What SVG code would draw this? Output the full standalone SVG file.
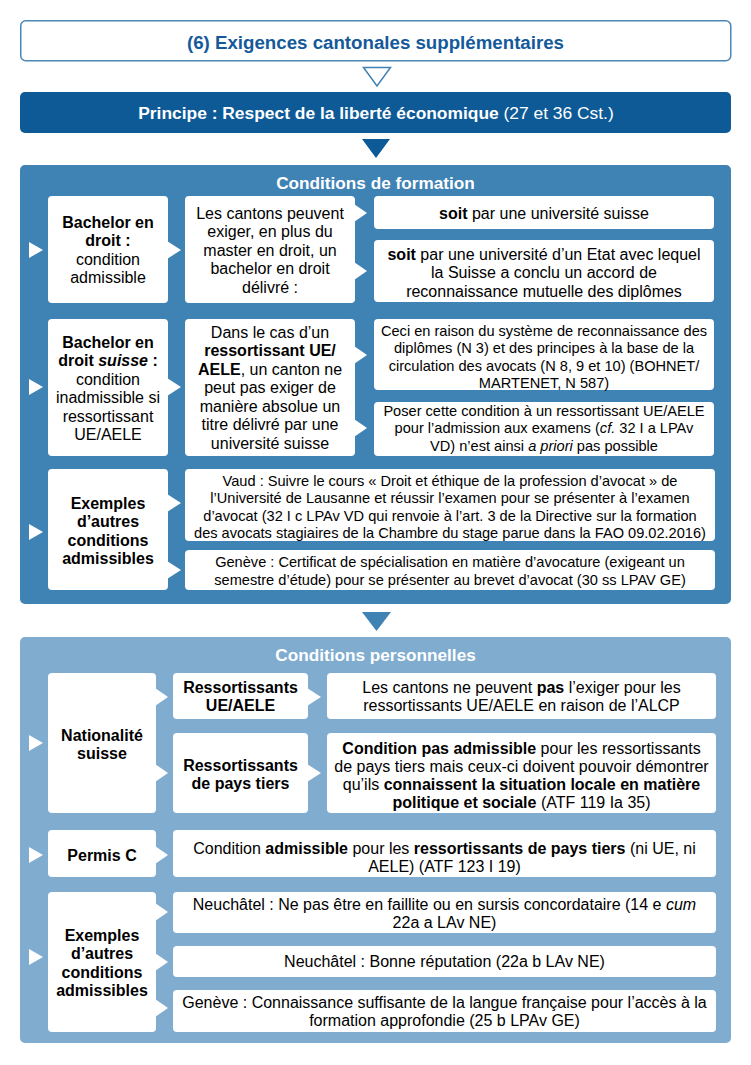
<svg xmlns="http://www.w3.org/2000/svg" width="751" height="1065" viewBox="0 0 751 1065">
<style>
text{font-family:"Liberation Sans",Arial,Helvetica,sans-serif;font-size:16px;fill:#000;text-anchor:middle}
.b{font-weight:bold}
.i{font-style:italic}
.s15{font-size:14.6px}
.box{fill:#fff}
.w{fill:#fff}
.hdr{fill:#fff;font-weight:bold;font-size:17.2px}
</style>
<rect width="751" height="1065" fill="#fff"/>

<g id="title">
<rect x="20.75" y="20.75" width="710" height="40" rx="5" fill="#fff" stroke="#4a87b8" stroke-width="1.5"/>
<text x="375.5" y="49" class="b" style="font-size:18.7px;fill:#14599a">(6) Exigences cantonales supplémentaires</text>
</g>

<g id="principe">
<rect x="20" y="92" width="711" height="41" rx="5" fill="#0d5a97"/>
<text x="376" y="119" style="font-size:17.4px;fill:#fff"><tspan class="b">Principe : Respect de la liberté économique</tspan> (27 et 36 Cst.)</text>
</g>

<g id="formation">
<rect x="20" y="165" width="711" height="439" rx="5" fill="#3f82b4"/>
<text x="375.5" y="189" class="hdr">Conditions de formation</text>
</g>

<g id="f-bachelor">
<rect class="box" x="48" y="196" width="120" height="107" rx="4"/>
<text x="108" y="227.5" class="b">Bachelor en</text>
<text x="108" y="246" class="b">droit :</text>
<text x="108" y="264.5">condition</text>
<text x="108" y="283">admissible</text>
</g>
<g id="f-bachelor-mid">
<rect class="box" x="185" y="196" width="170" height="107" rx="4"/>
<text x="270" y="218.5">Les cantons peuvent</text>
<text x="270" y="237">exiger, en plus du</text>
<text x="270" y="255.5">master en droit, un</text>
<text x="270" y="274">bachelor en droit</text>
<text x="270" y="292.5">délivré :</text>
</g>
<g id="f-soit1">
<rect class="box" x="374" y="196" width="340" height="33" rx="4"/>
<text x="544" y="218.5"><tspan class="b">soit</tspan> par une université suisse</text>
</g>
<g id="f-soit2">
<rect class="box" x="374" y="240" width="340" height="62" rx="4"/>
<text x="544" y="259.5"><tspan class="b">soit</tspan> par une université d’un Etat avec lequel</text>
<text x="544" y="278">la Suisse a conclu un accord de</text>
<text x="544" y="296.5">reconnaissance mutuelle des diplômes</text>
</g>

<g id="f-suisse">
<rect class="box" x="48" y="319" width="120" height="137" rx="4"/>
<text x="108" y="347.5" class="b">Bachelor en</text>
<text x="108" y="366" class="b">droit <tspan class="i">suisse</tspan> :</text>
<text x="108" y="384.5">condition</text>
<text x="108" y="403">inadmissible si</text>
<text x="108" y="421.5">ressortissant</text>
<text x="108" y="440">UE/AELE</text>
</g>
<g id="f-suisse-mid">
<rect class="box" x="185" y="319" width="170" height="137" rx="4"/>
<text x="270" y="337.5">Dans le cas d’un</text>
<text x="270" y="356" class="b">ressortissant UE/</text>
<text x="270" y="374.5"><tspan class="b">AELE</tspan>, un canton ne</text>
<text x="270" y="393">peut pas exiger de</text>
<text x="270" y="411.5">manière absolue un</text>
<text x="270" y="430">titre délivré par une</text>
<text x="270" y="448.5">université suisse</text>
</g>
<g id="f-ceci">
<rect class="box" x="374" y="319" width="340" height="71" rx="4"/>
<text x="544" y="335.5" class="s15">Ceci en raison du système de reconnaissance des</text>
<text x="544" y="353" class="s15">diplômes (N 3) et des principes à la base de la</text>
<text x="544" y="370.5" class="s15">circulation des avocats (N 8, 9 et 10) (BOHNET/</text>
<text x="544" y="388" class="s15">MARTENET, N 587)</text>
</g>
<g id="f-poser">
<rect class="box" x="374" y="402" width="340" height="54" rx="4"/>
<text x="544" y="415.5" class="s15">Poser cette condition à un ressortissant UE/AELE</text>
<text x="544" y="433" class="s15">pour l’admission aux examens (<tspan class="i">cf.</tspan> 32 I a LPAv</text>
<text x="544" y="450.5" class="s15">VD) n’est ainsi <tspan class="i">a priori</tspan> pas possible</text>
</g>

<g id="f-exemples">
<rect class="box" x="48" y="469" width="120" height="121" rx="4"/>
<text x="108" y="508.5" class="b">Exemples</text>
<text x="108" y="527" class="b">d’autres</text>
<text x="108" y="545.5" class="b">conditions</text>
<text x="108" y="564" class="b">admissibles</text>
</g>
<g id="f-vaud">
<rect class="box" x="185" y="469" width="530" height="72" rx="4"/>
<text x="450" y="485.5" class="s15">Vaud : Suivre le cours « Droit et éthique de la profession d’avocat » de</text>
<text x="450" y="503" class="s15">l’Université de Lausanne et réussir l’examen pour se présenter à l’examen</text>
<text x="450" y="520.5" class="s15">d’avocat (32 I c LPAv VD qui renvoie à l’art. 3 de la Directive sur la formation</text>
<text x="450" y="538" class="s15">des avocats stagiaires de la Chambre du stage parue dans la FAO 09.02.2016)</text>
</g>
<g id="f-geneve">
<rect class="box" x="185" y="550" width="530" height="40" rx="4"/>
<text x="450" y="567" class="s15">Genève : Certificat de spécialisation en matière d’avocature (exigeant un</text>
<text x="450" y="584.5" class="s15">semestre d’étude) pour se présenter au brevet d’avocat (30 ss LPAV GE)</text>
</g>

<g id="personnelles">
<rect x="20" y="637" width="711" height="406" rx="5" fill="#80acd0"/>
<text x="375.5" y="661" class="hdr">Conditions personnelles</text>
</g>

<g id="p-nationalite">
<rect class="box" x="48" y="673" width="108" height="140" rx="4"/>
<text x="102" y="740.5" class="b">Nationalité</text>
<text x="102" y="759" class="b">suisse</text>
</g>
<g id="p-ue">
<rect class="box" x="173" y="673" width="135" height="46" rx="4"/>
<text x="240.5" y="692.5" class="b">Ressortissants</text>
<text x="240.5" y="711" class="b">UE/AELE</text>
</g>
<g id="p-ue-txt">
<rect class="box" x="327" y="673" width="389" height="46" rx="4"/>
<text x="521.5" y="692.5">Les cantons ne peuvent <tspan class="b">pas</tspan> l’exiger pour les</text>
<text x="521.5" y="711">ressortissants UE/AELE en raison de l’ALCP</text>
</g>
<g id="p-tiers">
<rect class="box" x="173" y="733" width="135" height="80" rx="4"/>
<text x="240.5" y="770.5" class="b">Ressortissants</text>
<text x="240.5" y="789" class="b">de pays tiers</text>
</g>
<g id="p-tiers-txt">
<rect class="box" x="327" y="733" width="389" height="80" rx="4"/>
<text x="521.5" y="753.5"><tspan class="b">Condition pas admissible</tspan> pour les ressortissants</text>
<text x="521.5" y="772">de pays tiers mais ceux-ci doivent pouvoir démontrer</text>
<text x="521.5" y="790">qu’ils <tspan class="b">connaissent la situation locale en matière</tspan></text>
<text x="521.5" y="808"><tspan class="b">politique et sociale</tspan> (ATF 119 Ia 35)</text>
</g>

<g id="p-permis">
<rect class="box" x="48" y="830" width="108" height="47" rx="4"/>
<text x="102" y="860.5" class="b">Permis C</text>
</g>
<g id="p-permis-txt">
<rect class="box" x="173" y="830" width="543" height="47" rx="4"/>
<text x="444.5" y="853.5">Condition <tspan class="b">admissible</tspan> pour les <tspan class="b">ressortissants de pays tiers</tspan> (ni UE, ni</text>
<text x="444.5" y="871.5">AELE) (ATF 123 I 19)</text>
</g>

<g id="p-exemples">
<rect class="box" x="48" y="892" width="108" height="140" rx="4"/>
<text x="102" y="940.5" class="b">Exemples</text>
<text x="102" y="959" class="b">d’autres</text>
<text x="102" y="977.5" class="b">conditions</text>
<text x="102" y="996" class="b">admissibles</text>
</g>
<g id="p-ne1">
<rect class="box" x="173" y="892" width="543" height="41" rx="4"/>
<text x="444.5" y="910">Neuchâtel : Ne pas être en faillite ou en sursis concordataire (14 e <tspan class="i">cum</tspan></text>
<text x="444.5" y="927.5">22a a LAv NE)</text>
</g>
<g id="p-ne2">
<rect class="box" x="173" y="946" width="543" height="31" rx="4"/>
<text x="444.5" y="967">Neuchâtel : Bonne réputation (22a b LAv NE)</text>
</g>
<g id="p-ge">
<rect class="box" x="173" y="990" width="543" height="42" rx="4"/>
<text x="444.5" y="1007.5">Genève : Connaissance suffisante de la langue française pour l’accès à la</text>
<text x="444.5" y="1026">formation approfondie (25 b LPAv GE)</text>
</g>

<g id="connectors">
<polygon points="363.5,67.5 390.5,67.5 377,86" fill="#fff" stroke="#3f82b4" stroke-width="1.5"/>
<polygon points="362,139 390,139 376,158" fill="#0d5a97"/>
<polygon points="362,612 391,612 376.5,631" fill="#3f82b4"/>
<g class="w">
<polygon points="29,242 43,250 29,258"/>
<polygon points="29,379 43,387 29,395"/>
<polygon points="29,524 43,532 29,540"/>
<polygon points="29,735 43,743 29,751"/>
<polygon points="29,847 43,855 29,863"/>
<polygon points="29,949 43,957 29,965"/>
<polygon points="167,241 181,250 167,259"/>
<polygon points="354,204 367,213 354,222"/>
<polygon points="354,262 367,271 354,280"/>
<polygon points="167,378 181,387 167,396"/>
<polygon points="354,346 367,355 354,364"/>
<polygon points="354,419 367,428 354,437"/>
<polygon points="167,494 181,503 167,512"/>
<polygon points="167,561 181,570 167,579"/>
<polygon points="155,688 168,697 155,706"/>
<polygon points="155,764 168,773 155,782"/>
<polygon points="307,688 321,697 307,706"/>
<polygon points="307,764 321,773 307,782"/>
<polygon points="155,846 168,855 155,864"/>
<polygon points="155,903 168,912 155,921"/>
<polygon points="155,953 168,962 155,971"/>
<polygon points="155,999 168,1008 155,1017"/>
</g>
</g>
</svg>
